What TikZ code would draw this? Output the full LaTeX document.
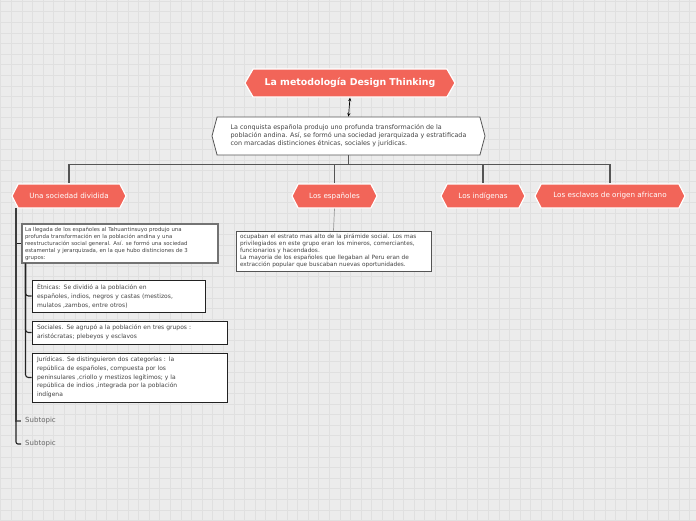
\documentclass[tikz,border=0pt]{standalone}
\usepackage{fontspec}
\setmainfont{DejaVu Sans}
\usetikzlibrary{shapes.symbols,arrows.meta}
\definecolor{coral}{HTML}{F26559}
\definecolor{bgc}{HTML}{ECECEC}
\definecolor{gridc}{HTML}{E0E0E0}
\definecolor{connc}{HTML}{555555}
\definecolor{txtc}{HTML}{444444}
\definecolor{darkc}{HTML}{222222}
\begin{document}
\begin{tikzpicture}[x=1pt,y=-1pt,
  hex/.style={signal, signal to=east and west, fill=coral, draw=white, line width=1.2pt,
    text=white, inner sep=0pt, font=\fontsize{7.2}{8}\selectfont},
  topic/.style={hex, minimum height=24, signal pointer angle=126},
  box/.style={draw=darkc, fill=white, line width=0.8pt, text=txtc, align=left,
    inner ysep=2pt, font=\fontsize{6.0}{8.7}\selectfont},
  connline/.style={draw=connc, line width=1.1pt},
  darkline/.style={draw=darkc, line width=1.1pt},
  subt/.style={anchor=west, inner xsep=4pt, inner ysep=1pt, text=black!60, font=\fontsize{7}{8}\selectfont}
]
\useasboundingbox (0,0) rectangle (696,520);
\fill[bgc] (0,0) rectangle (696,520);
\foreach \i in {0,...,65} {
  \draw[gridc, line width=0.5pt] ({0.7+10.6*\i},0) -- ++(0,520);
}
\foreach \i in {0,...,49} {
  \draw[gridc, line width=0.5pt] (0,{1.0+10.6*\i}) -- ++(696,0);
}

% main topic
\node[hex, font=\bfseries\fontsize{9.4}{10}\selectfont, minimum width=210, minimum height=28,
  signal pointer angle=120] (title) at (350,83) {La metodología Design Thinking};

\node[hex, fill=white, draw=connc, line width=0.8pt, text=txtc, minimum width=273, minimum height=38,
  signal pointer angle=150, align=left, font=\fontsize{6.4}{8}\selectfont] (desc) at (348.5,136)
  {La conquista española produjo uno profunda transformación de la\\población andina. Así, se formó una sociedad jerarquizada y estratificada\\con marcadas distinciones étnicas, sociales y jurídicas.};

% level-1 topics
\node[topic, minimum width=114] (n1) at (69,196) {Una sociedad dividida};
\node[topic, minimum width=85] (n2) at (334.5,196) {Los españoles};
\node[topic, minimum width=84] (n3) at (483,196) {Los indígenas};
\node[topic, minimum width=150] (n4) at (610,196) {Los esclavos de origen africano};

% boxes
\node[box, draw=connc, line width=0.9pt, minimum width=195, minimum height=40, text width=187, inner xsep=4pt,
  font=\fontsize{5.8}{6.9}\selectfont] (spa) at (333.5,251)
  {ocupaban el estrato mas alto de la pirámide social. Los mas\\privilegiados en este grupo eran los mineros, comerciantes,\\funcionarios y hacendados.\\La mayoria de los españoles que llegaban al Peru eran de\\extracción popular que buscaban nuevas oportunidades.};

\node[box, draw=black!55, line width=1.1pt, minimum width=196, minimum height=39, text width=190, inner xsep=3pt,
  font=\fontsize{5.4}{7}\selectfont] (box1) at (120,243.5)
  {La llegada de los españoles al Tahuantinsuyo produjo una\\profunda transformación en la población andina y una\\reestructuración social general. Así. se formó una sociedad\\estamental y jerarquizada, en la que hubo distinciones de 3\\grupos:};

\node[box, minimum width=173, minimum height=32, text width=163, inner xsep=5pt] (etn) at (118.5,296)
  {Ètnicas: Se dividió a la población en\\españoles, indios, negros y castas (mestizos,\\mulatos ,zambos, entre otros)};
\node[box, minimum width=195, minimum height=23, text width=185, inner xsep=5pt] (soc) at (129.5,332.5)
  {Sociales. Se agrupó a la población en tres grupos :\\aristócratas; plebeyos y esclavos};
\node[box, minimum width=195, minimum height=49, text width=185, inner xsep=5pt] (jur) at (129.5,377.5)
  {Jurídicas. Se distinguieron dos categorías : la\\república de españoles, compuesta por los\\peninsulares ,criollo y mestizos legítimos; y la\\república de indios ,integrada por la población\\indígena};

\node[subt] (s1) at (21,421) {Subtopic};
\node[subt] (s2) at (21,444) {Subtopic};

% connectors
\draw[<->, >={Stealth[length=3.5pt,width=3pt]}, line width=0.7pt, black] (title.south) -- (desc.north);
\coordinate (hub) at ([yshift=-9pt]desc.south);
\draw[connline] (desc.south) -- (hub);
\draw[connline] (hub) -| (n1.north);
\draw[connline] (hub) -| (n2.north);
\draw[connline] (hub) -| (n3.north);
\draw[connline] (hub) -| (n4.north);
\draw[black!40, line width=0.7pt] (n2.south) -- (spa.north);

\coordinate (v1) at (16,208);
\draw[darkline] (v1) |- (box1.west);
\draw[black!55, line width=1.1pt] (v1) |- (s1.west);
\draw[darkline, rounded corners=2pt] (v1) |- (s2.west);

\coordinate (v2) at ([xshift=4pt]box1.south west);
\draw[darkline, rounded corners=3pt] (v2) |- (etn.west);
\draw[darkline, rounded corners=3pt] (v2) |- (soc.west);
\draw[darkline, rounded corners=3pt] (v2) |- (jur.west);
\end{tikzpicture}
\end{document}
